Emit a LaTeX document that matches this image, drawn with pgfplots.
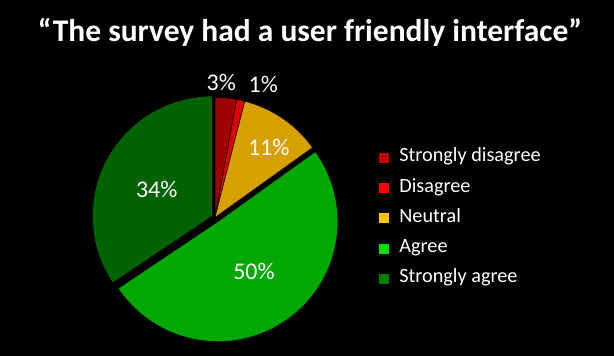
\documentclass[border=0pt]{standalone}
\usepackage{pgfplots}
\usepackage{pgfplotstable}
\pgfplotsset{compat=1.18}
\usepackage{fontspec}
\setmainfont{Carlito}
\definecolor{slice0}{HTML}{A00000}
\definecolor{slice1}{HTML}{E00000}
\definecolor{slice2}{HTML}{D6A000}
\definecolor{slice3}{HTML}{00A800}
\definecolor{slice4}{HTML}{006200}
\definecolor{leg0}{HTML}{C00000}
\definecolor{leg1}{HTML}{FF0000}
\definecolor{leg2}{HTML}{FFC000}
\definecolor{leg3}{HTML}{00DC00}
\definecolor{leg4}{HTML}{008000}
\pgfplotstableread{
idx value explode
0 2.9 0
1 1.1 0
2 11.1 0
3 50.5 5
4 34.4 3
}\pietable
\pgfplotsset{legsq/.style={legend image code/.code={\fill[##1] (0bp,-5.5bp) rectangle (11bp,5.5bp);}}}
\begin{document}
\begin{tikzpicture}
\fill[black] (0,0) rectangle (614bp,356bp);
\begin{axis}[at={(0,0)}, anchor=south west, scale only axis,
  width=614bp, height=356bp, xmin=0, xmax=614, ymin=0, ymax=356,
  hide axis, clip=false,
  legend cell align=left,
  legend style={at={(axis cs:378,208)}, anchor=north west, draw=none, fill=none,
    text=white, font=\fontsize{20.3}{24}\selectfont, inner sep=0pt, outer sep=0pt,
    row sep=11.25bp, column sep=10bp,
    nodes={inner sep=0pt, text height=14bp, text depth=5bp}},
]
\pgfmathsetmacro\cum{0}
\pgfplotsforeachungrouped \i in {0,...,4}{%
  \pgfplotstablegetelem{\i}{value}\of\pietable \let\v\pgfplotsretval
  \pgfplotstablegetelem{\i}{explode}\of\pietable \let\e\pgfplotsretval
  \pgfmathsetmacro\a{90-3.6*\cum}%
  \pgfmathsetmacro\cumnew{\cum+\v}%
  \pgfmathsetmacro\b{90-3.6*\cumnew}%
  \pgfmathsetmacro\m{(\a+\b)/2}%
  \pgfmathsetmacro\ox{215+\e*cos(\m)}%
  \pgfmathsetmacro\oy{138.5+\e*sin(\m)}%
  \edef\doplot{\noexpand\addplot[fill=slice\i, draw=black, line width=0.5pt, domain=\b:\a, samples=90, variable=\noexpand\t, forget plot] ({\ox+120*cos(\noexpand\t)},{\oy+120*sin(\noexpand\t)}) -- (axis cs:\ox,\oy) -- cycle;}%
  \doplot
  \global\let\cum\cumnew
}
\addlegendimage{legsq, fill=leg0}\addlegendentry{Strongly disagree}
\addlegendimage{legsq, fill=leg1}\addlegendentry{Disagree}
\addlegendimage{legsq, fill=leg2}\addlegendentry{Neutral}
\addlegendimage{legsq, fill=leg3}\addlegendentry{Agree}
\addlegendimage{legsq, fill=leg4}\addlegendentry{Strongly agree}
\begin{scope}[every node/.style={text=white, font=\fontsize{24}{29}\selectfont}]
\node at (axis cs:221.3,274) {3\%};
\node at (axis cs:263.3,272) {1\%};
\node at (axis cs:268.7,208.7) {11\%};
\node at (axis cs:156.7,167) {34\%};
\node at (axis cs:254,84.3) {50\%};
\end{scope}
\node[text=white, font=\bfseries\fontsize{31.6}{38}\selectfont] at (axis cs:310,324) {“The survey had a user friendly interface”};
\end{axis}
\end{tikzpicture}
\end{document}
